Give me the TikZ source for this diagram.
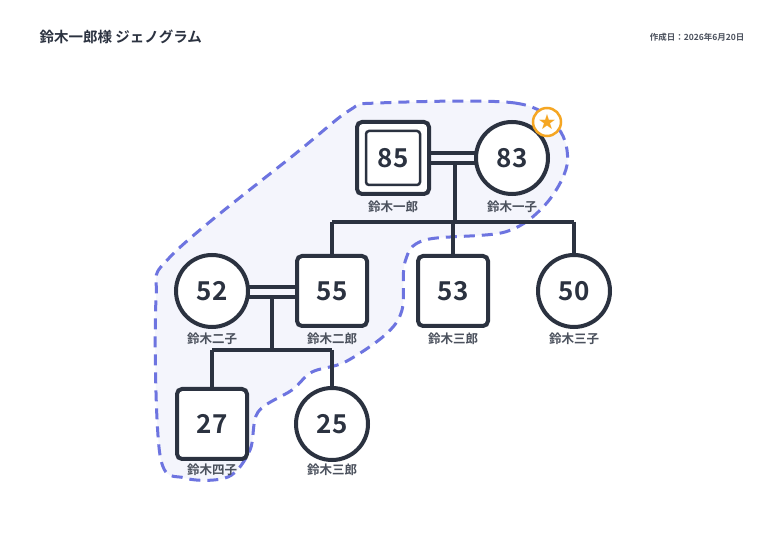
\documentclass[tikz,border=0pt]{standalone}
\usepackage{fontspec}
\setmainfont{Noto Sans CJK JP}
\newfontfamily\jpb{Noto Sans CJK JP Bold}
\begin{document}
\begin{tikzpicture}[x=1pt,y=-1pt,
  ln/.style={draw=dk,line width=3.5pt},
  sq/.style={draw=dk,line width=4pt,fill=white,rounded corners=5pt,minimum size=70pt,font=\jpb\fontsize{26}{26}\selectfont,text=dk},
  ci/.style={circle,draw=dk,line width=4pt,fill=white,minimum size=72pt,font=\jpb\fontsize{26}{26}\selectfont,text=dk},
  lb/.style={font=\jpb\fontsize{12.5}{13}\selectfont,text=dk!85}]
\definecolor{dk}{HTML}{2B3240}
\definecolor{hull}{HTML}{6D74E0}
\definecolor{hullf}{HTML}{F4F5FC}
\definecolor{org}{HTML}{F5A623}
\useasboundingbox (0,0) rectangle (780,545);
\fill[white] (0,0) rectangle (780,545);
\draw[hull,fill=hullf,line width=3pt,dash pattern=on 11pt off 7pt] plot[smooth cycle,tension=0.55] coordinates {
 (378,103) (515,103) (558,128) (567,165) (545,205) (505,232) (425,240) (405,262) (402,310) (385,335) (345,362) (312,372) (292,390) (258,412) (250,450) (228,477) (185,478) (160,455) (156,300) (172,255) (300,150) (350,110)};
% connectors
\draw[ln] (428,153) -- (476,153) (428,163) -- (476,163);
\draw[ln] (455,163) -- (455,222);
\draw[ln] (332,222) -- (574,222);
\draw[ln] (332,222) -- (332,256) (453,222) -- (453,256) (574,222) -- (574,256);
\draw[ln] (248,287) -- (296,287) (248,297) -- (296,297);
\draw[ln] (272,297) -- (272,350);
\draw[ln] (212,350) -- (332,350);
\draw[ln] (212,350) -- (212,388) (332,350) -- (332,388);
% nodes
\node[sq,minimum size=72pt] (a) at (393,158) {};
\node[draw=dk,line width=2.5pt,rounded corners=3pt,minimum size=54pt,font=\jpb\fontsize{26}{26}\selectfont,text=dk] (a2) at (393,158) {85};
\node[ci] (b) at (512,158) {83};
\node[ci] (c) at (212,291) {52};
\node[sq] (d) at (332,291) {55};
\node[sq] (e) at (453,291) {53};
\node[ci] (f) at (574,291) {50};
\node[sq] (g) at (212,424) {27};
\node[ci] (h) at (332,424) {25};
\node[lb] at (393,207) {鈴木一郎};
\node[lb] at (512,207) {鈴木一子};
\node[lb] at (212,339) {鈴木二子};
\node[lb] at (332,339) {鈴木二郎};
\node[lb] at (453,339) {鈴木三郎};
\node[lb] at (574,339) {鈴木三子};
\node[lb] at (212,470) {鈴木四子};
\node[lb] at (332,470) {鈴木三郎};
\node[circle,draw=org,line width=2.5pt,fill=white,minimum size=28pt,inner sep=0pt,text=org,font=\fontsize{17}{17}\selectfont] (s) at (547,122) {★};
\node[anchor=west,font=\jpb\fontsize{14.5}{15}\selectfont,text=dk] (t) at (36,37) {鈴木一郎様 ジェノグラム};
\node[anchor=east,font=\jpb\fontsize{8.5}{9}\selectfont,text=dk!85] (dt) at (748,37) {作成日：2026年6月20日};
\end{tikzpicture}
\end{document}
